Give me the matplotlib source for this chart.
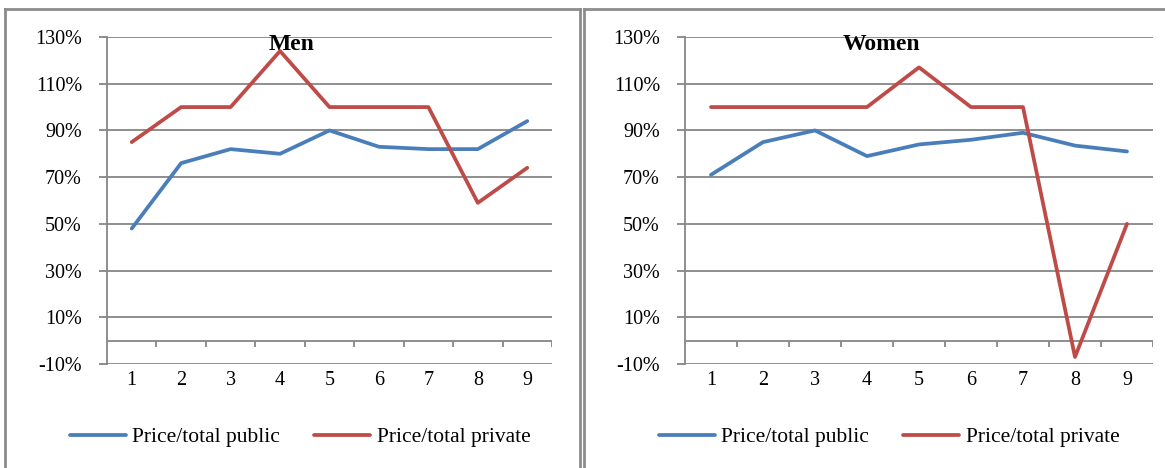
import matplotlib
matplotlib.use("Agg")
import matplotlib.pyplot as plt
from matplotlib.lines import Line2D
import numpy as np

categories = [1, 2, 3, 4, 5, 6, 7, 8, 9]
men_public = [48, 76, 82, 80, 90, 83, 82, 82, 94]
men_private = [85, 100, 100, 124, 100, 100, 100, 59, 74]
women_public = [71, 85, 90, 79, 84, 86, 89, 83.5, 81]
women_private = [100, 100, 100, 100, 117, 100, 100, -7, 50]
yticks = [-10, 10, 30, 50, 70, 90, 110, 130]
series_names = ["Price/total public", "Price/total private"]
titles = ["Men", "Women"]

BLUE = "#4A7EBB"
RED = "#BE4B48"
GRID = "#868686"
FONT = "Liberation Serif"

plt.rcParams['font.family'] = [FONT, 'DejaVu Serif']

W, H = 1165, 468
fig = plt.figure(figsize=(W / 100, H / 100), dpi=100)


def px_rect(x0, x1, ytop, ybot):
    return [x0 / W, 1 - ybot / H, (x1 - x0) / W, (ybot - ytop) / H]


panels = [
    (px_rect(107, 552, 37, 364), men_public, men_private, titles[0], 292),
    (px_rect(685, 1153, 37, 364), women_public, women_private, titles[1], 881),
]

for rect, pub, priv, title, cx in panels:
    ax = fig.add_axes(rect)
    x = np.array(categories)
    ax.plot(x, pub, color=BLUE, lw=2.7, solid_joinstyle='round', solid_capstyle='round', zorder=3, label=series_names[0])
    ax.plot(x, priv, color=RED, lw=2.7, solid_joinstyle='round', solid_capstyle='round', zorder=3, label=series_names[1])
    ax.set_xlim(x[0] - 0.5, x[-1] + 0.5)
    ax.set_ylim(yticks[0], yticks[-1])
    ax.set_yticks(yticks)
    ax.set_yticklabels([f"{v}%" for v in yticks])
    ax.set_xticks(x)
    ax.set_xticklabels([str(c) for c in categories])
    ax.grid(axis='y', color=GRID, lw=1.3)
    ax.set_axisbelow(True)
    for s in ['top', 'right', 'bottom']:
        ax.spines[s].set_visible(False)
    ax.spines['left'].set_color(GRID)
    ax.spines['left'].set_linewidth(1.3)
    ax.tick_params(axis='y', length=6, width=1.3, color=GRID, pad=12, labelsize=14.5)
    ax.tick_params(axis='x', length=0, pad=5, labelsize=14.5)
    # horizontal axis crossing at 0 with tick marks between categories
    ax.axhline(0, color=GRID, lw=1.3, zorder=2)
    bounds = np.arange(x[0] + 0.5, x[-1] + 1.0, 1.0)
    ax.vlines(bounds, -2.8, 0, color=GRID, lw=1.3, zorder=2)
    fig.text(cx / W, 1 - 45 / H, title, ha='center', va='center',
             fontsize=17, fontweight='bold', family=FONT)
    leg_cx = cx + 8
    ax.legend(loc='center', bbox_to_anchor=((leg_cx - rect[0] * W) / (rect[2] * W),
                                             (1 - 437 / H - rect[1]) / rect[3]),
              ncol=2, frameon=False, fontsize=15.5, handlelength=2.6,
              handletextpad=0.3, columnspacing=1.6)

# chart borders
border = "#8C8C8C"
fig.add_artist(Line2D([5 / W, 5 / W], [0, 1 - 9 / H], color=border, lw=2))
fig.add_artist(Line2D([5 / W, 580 / W], [1 - 9 / H, 1 - 9 / H], color=border, lw=2))
fig.add_artist(Line2D([580 / W, 580 / W], [0, 1 - 9 / H], color=border, lw=2))
fig.add_artist(Line2D([584 / W, 584 / W], [0, 1 - 9 / H], color=border, lw=2))
fig.add_artist(Line2D([584 / W, 1], [1 - 9 / H, 1 - 9 / H], color=border, lw=2))

fig.savefig("out.png", dpi=100)
